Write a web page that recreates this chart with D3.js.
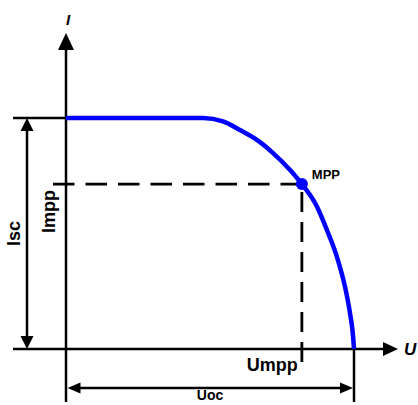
<!DOCTYPE html>
<html>
<head>
<meta charset="utf-8">
<script src="https://cdn.jsdelivr.net/npm/d3@7"></script>
<style>
  html, body { margin: 0; padding: 0; background: #fff; }
  svg { display: block; }
  text { font-family: "Liberation Sans", Arial, sans-serif; font-weight: bold; fill: #000; }
</style>
</head>
<body>
<svg id="chart" width="418" height="405"></svg>
<script>
// ---- data (U and I in % of Uoc / Isc) ----
const curveU = [0, 47.6, 54.5, 60.4, 66.3, 71.9, 77.8, 81.9, 87.2, 90.6, 94.1, 96.9, 98.6, 99.7, 100];
const curveI = [100, 100, 98.5, 94.8, 90.5, 84.8, 77.5, 71.4, 61.5, 51.5, 39.8, 26.8, 15.6, 5.2, 0];
const mppU = 81.9;
const mppI = 71.4;
const uoc = 100;
const isc = 100;
const labels = { xAxis: "U", yAxis: "I", isc: "Isc", impp: "Impp", umpp: "Umpp", uoc: "Uoc", mpp: "MPP" };

// ---- layout ----
const svg = d3.select("#chart");
const x = d3.scaleLinear().domain([0, 100]).range([66, 354]);
const y = d3.scaleLinear().domain([0, 100]).range([349, 118]);
const uLeft = x.invert(13), uRight = x.invert(398);
const iBottom = y.invert(402), iTop = y.invert(33);

const black = "#000", blue = "#0000ff";

function line(x1, y1, x2, y2, w, dash) {
  const l = svg.append("line").attr("x1", x1).attr("y1", y1).attr("x2", x2).attr("y2", y2)
    .attr("stroke", black).attr("stroke-width", w);
  if (dash) l.attr("stroke-dasharray", dash);
  return l;
}
function arrow(tx, ty, dir, len, half) {
  let pts;
  if (dir === "up") pts = [[tx, ty], [tx - half, ty + len], [tx + half, ty + len]];
  if (dir === "down") pts = [[tx, ty], [tx - half, ty - len], [tx + half, ty - len]];
  if (dir === "left") pts = [[tx, ty], [tx + len, ty - half], [tx + len, ty + half]];
  if (dir === "right") pts = [[tx, ty], [tx - len, ty - half], [tx - len, ty + half]];
  svg.append("path").attr("d", "M" + pts.map(p => p.join(",")).join("L") + "Z").attr("fill", black);
}

// axes
line(x(0), y(iBottom), x(0), y(iTop) + 10, 2.5);
arrow(x(0), y(iTop), "up", 17, 8);
line(x(uLeft), y(0), x(uRight) - 10, y(0), 2.5);
arrow(x(uRight), y(0), "right", 15, 7);

// Isc reference line and dimension arrow
line(x(uLeft), y(isc), x(0), y(isc), 2.5);
const iscX = x(uLeft) + 14;
line(iscX, y(isc) + 8, iscX, y(0) - 8, 2.5);
arrow(iscX, y(isc), "up", 13, 6.5);
arrow(iscX, y(0), "down", 13, 6.5);

// Uoc tick and dimension arrow
line(x(uoc), y(0), x(uoc), y(iBottom), 2.5);
const uocY = y(0) + 39;
line(x(0) + 8, uocY, x(uoc) - 8, uocY, 2.5);
arrow(x(0) + 1.5, uocY, "left", 13, 5.5);
arrow(x(uoc) - 1, uocY, "right", 13, 5.5);

// MPP dashed guides
line(x(0) - 13, y(mppI), x(mppU), y(mppI), 2.8, "21.5,11");
line(x(mppU), y(0) + 13, x(mppU), y(mppI), 2.8, "20,10");

// curve
const lineGen = d3.line().x(d => x(d[0])).y(d => y(d[1])).curve(d3.curveMonotoneX);
svg.append("path")
  .datum(curveU.map((u, i) => [u, curveI[i]]))
  .attr("d", lineGen)
  .attr("fill", "none").attr("stroke", blue).attr("stroke-width", 4.5);
svg.append("circle").attr("cx", x(mppU)).attr("cy", y(mppI)).attr("r", 6).attr("fill", blue);

// labels
svg.append("text").attr("x", x(0) + 2).attr("y", 25).attr("text-anchor", "middle")
  .style("font-style", "italic").style("font-size", "15px").text(labels.yAxis);
svg.append("text").attr("x", 404).attr("y", 355)
  .style("font-style", "italic").style("font-size", "17px").text(labels.xAxis);
svg.append("text").attr("transform", `translate(${iscX - 7},${(y(isc) + y(0)) / 2}) rotate(-90)`)
  .attr("text-anchor", "middle").style("font-size", "18px").text(labels.isc);
svg.append("text").attr("transform", `translate(55,${(y(mppI) + y(0)) / 2 - 55}) rotate(-90)`)
  .attr("text-anchor", "middle").style("font-size", "18px").text(labels.impp);
svg.append("text").attr("x", x(mppU) - 4).attr("y", 371).attr("text-anchor", "end")
  .style("font-size", "18px").text(labels.umpp);
svg.append("text").attr("x", (x(0) + x(uoc)) / 2).attr("y", 400).attr("text-anchor", "middle")
  .style("font-size", "14px").text(labels.uoc);
svg.append("text").attr("x", x(mppU) + 10).attr("y", 179)
  .style("font-size", "13px").text(labels.mpp);
</script>
</body>
</html>
